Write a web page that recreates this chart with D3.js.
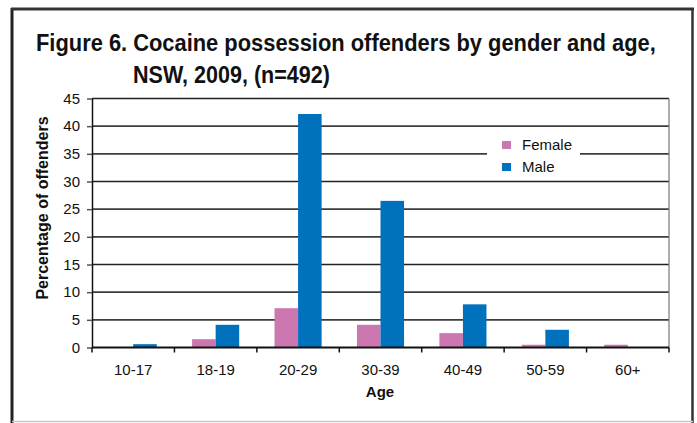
<!DOCTYPE html>
<html>
<head>
<meta charset="utf-8">
<script src="https://cdn.jsdelivr.net/npm/d3@7"></script>
<style>
  html, body { margin: 0; padding: 0; background: #fff; }
  svg { display: block; }
  text { font-family: "Liberation Sans", Arial, sans-serif; fill: #111; }
</style>
</head>
<body>
<svg id="chart" width="697" height="423"></svg>
<script>
// Age groups on the x axis
const ageGroups = ["10-17", "18-19", "20-29", "30-39", "40-49", "50-59", "60+"];
// Percentage of cocaine possession offenders in each age group
const femaleValues = [0, 1.5, 7.1, 4.1, 2.6, 0.5, 0.5];
const maleValues   = [0.6, 4.1, 42.2, 26.5, 7.8, 3.2, 0];
const seriesNames  = ["Female", "Male"];
const seriesColors = ["#cc77b0", "#0071bd"];
const yTicks = [0, 5, 10, 15, 20, 25, 30, 35, 40, 45];

const svg = d3.select("#chart");

// Outer frame
svg.append("line").attr("x1", 12).attr("x2", 12).attr("y1", 8).attr("y2", 423)
  .attr("stroke", "#222").attr("stroke-width", 3);
svg.append("line").attr("x1", 11).attr("x2", 694).attr("y1", 9).attr("y2", 9)
  .attr("stroke", "#333").attr("stroke-width", 3);
svg.append("line").attr("x1", 692.5).attr("x2", 692.5).attr("y1", 8).attr("y2", 423)
  .attr("stroke", "#333").attr("stroke-width", 2.5);
svg.append("line").attr("x1", 12).attr("x2", 693).attr("y1", 421.5).attr("y2", 421.5)
  .attr("stroke", "#c8c8c8").attr("stroke-width", 1.5);

// Title, condensed horizontally to fit the frame
function condensedLine(str, left, baseline, width) {
  const t = svg.append("text")
    .attr("font-weight", "bold").attr("font-size", 24).text(str);
  const natural = t.node().getComputedTextLength();
  t.attr("transform", `translate(${left},${baseline}) scale(${width / natural},1)`);
}
condensedLine("Figure 6. Cocaine possession offenders by gender and age,", 36, 51, 620);
condensedLine("NSW, 2009, (n=492)", 133, 83, 197);

const plot = { left: 92, right: 669, top: 98.5, bottom: 347.5 };

const x = d3.scaleBand().domain(ageGroups).range([plot.left, plot.right]);
const xSub = d3.scaleBand().domain(seriesNames).range([0, x.bandwidth()])
  .paddingInner(0).paddingOuter(0.75);
const y = d3.scaleLinear().domain([0, 45]).range([plot.bottom, plot.top]);

// Horizontal gridlines
svg.append("g").selectAll("line").data(yTicks.filter(t => t > 0)).join("line")
  .attr("x1", plot.left).attr("x2", plot.right)
  .attr("y1", d => y(d)).attr("y2", d => y(d))
  .attr("stroke", d => d % 15 === 0 ? "#222" : "#3c3c3c")
  .attr("stroke-width", 1.6);

// Right border of the plot area
svg.append("line").attr("x1", plot.right).attr("x2", plot.right)
  .attr("y1", plot.top).attr("y2", plot.bottom)
  .attr("stroke", "#777").attr("stroke-width", 1.2);

// Legend (white box breaks the gridline behind it)
const legend = svg.append("g");
legend.append("rect").attr("x", 487).attr("y", 131).attr("width", 93).attr("height", 46)
  .attr("fill", "#fff");
seriesNames.forEach((name, i) => {
  legend.append("rect").attr("x", 502).attr("y", 141 + i * 22).attr("width", 9).attr("height", 8)
    .attr("fill", seriesColors[i]);
  legend.append("text").attr("x", 522).attr("y", 150 + i * 22)
    .attr("font-size", 15).text(name);
});

// Bars
const rows = ageGroups.map((g, i) => ({ group: g, values: [femaleValues[i], maleValues[i]] }));
const groups = svg.append("g").selectAll("g").data(rows).join("g")
  .attr("transform", d => `translate(${x(d.group)},0)`);
groups.selectAll("rect")
  .data(d => d.values.map((v, i) => ({ name: seriesNames[i], value: v, color: seriesColors[i] })))
  .join("rect")
  .filter(d => d.value > 0)
  .attr("x", d => xSub(d.name))
  .attr("width", xSub.bandwidth())
  .attr("y", d => y(d.value))
  .attr("height", d => plot.bottom - y(d.value))
  .attr("fill", d => d.color);

// Y axis
const yAxis = svg.append("g").attr("transform", `translate(${plot.left},0)`)
  .call(d3.axisLeft(y).tickValues(yTicks).tickSize(5).tickPadding(7).tickSizeOuter(0));
yAxis.select(".domain").attr("stroke", "#111").attr("stroke-width", 1.5);
yAxis.selectAll(".tick line").attr("stroke", "#555").attr("stroke-width", 1.5);
yAxis.selectAll("text").attr("font-size", 15).attr("fill", "#111")
  .attr("font-family", "'Liberation Sans', Arial, sans-serif");

// X axis: tick marks at category boundaries, labels centered in each band
const xAxisG = svg.append("g").attr("transform", `translate(0,${plot.bottom})`);
xAxisG.append("line").attr("x1", plot.left).attr("x2", plot.right)
  .attr("stroke", "#111").attr("stroke-width", 2.2);
const boundaries = ageGroups.map(g => x(g)).concat([plot.right]);
xAxisG.selectAll("line.tick").data(boundaries).join("line").attr("class", "tick")
  .attr("x1", d => d).attr("x2", d => d).attr("y1", 0).attr("y2", 5)
  .attr("stroke", "#111").attr("stroke-width", 1.5);
xAxisG.selectAll("text").data(ageGroups).join("text")
  .attr("x", d => x(d) + x.bandwidth() / 2).attr("y", 27)
  .attr("text-anchor", "middle").attr("font-size", 15).text(d => d);

// Axis titles
svg.append("text").attr("x", 380).attr("y", 397).attr("text-anchor", "middle")
  .attr("font-weight", "bold").attr("font-size", 15).text("Age");
svg.append("text").attr("transform", "translate(48,208) rotate(-90)")
  .attr("text-anchor", "middle").attr("font-weight", "bold").attr("font-size", 16)
  .text("Percentage of offenders");
</script>
</body>
</html>
